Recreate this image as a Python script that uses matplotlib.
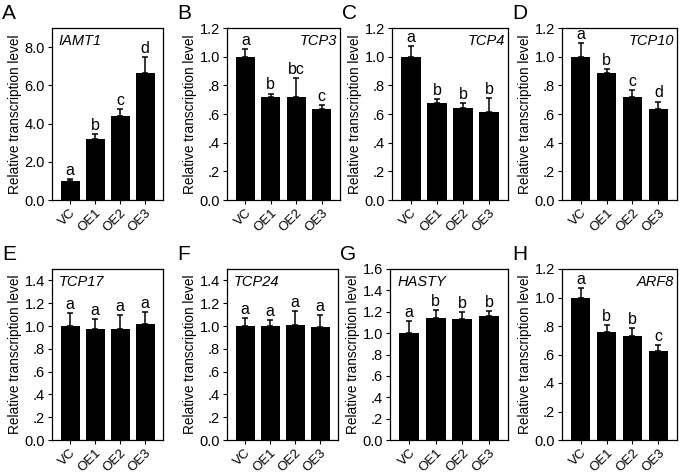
import matplotlib
matplotlib.use("Agg")
import matplotlib.pyplot as plt
from matplotlib.ticker import FuncFormatter

plt.rcParams['font.family'] = ['Liberation Sans', 'DejaVu Sans']

groups = ["VC", "OE1", "OE2", "OE3"]

panel_ids = ["A", "B", "C", "D", "E", "F", "G", "H"]
genes = ["IAMT1", "TCP3", "TCP4", "TCP10", "TCP17", "TCP24", "HASTY", "ARF8"]

iamt1_mean = [1.0, 3.17, 4.42, 6.67]
iamt1_err = [0.08, 0.30, 0.35, 0.83]
tcp3_mean = [1.0, 0.718, 0.72, 0.638]
tcp3_err = [0.05, 0.025, 0.13, 0.024]
tcp4_mean = [1.0, 0.68, 0.64, 0.612]
tcp4_err = [0.072, 0.026, 0.036, 0.098]
tcp10_mean = [1.0, 0.885, 0.72, 0.636]
tcp10_err = [0.093, 0.029, 0.047, 0.051]
tcp17_mean = [1.0, 0.97, 0.975, 1.02]
tcp17_err = [0.11, 0.095, 0.12, 0.105]
tcp24_mean = [1.0, 1.0, 1.01, 0.99]
tcp24_err = [0.07, 0.05, 0.12, 0.11]
hasty_mean = [1.0, 1.14, 1.13, 1.16]
hasty_err = [0.11, 0.075, 0.07, 0.05]
arf8_mean = [1.0, 0.76, 0.73, 0.622]
arf8_err = [0.068, 0.05, 0.056, 0.042]

letters = [
    ["a", "b", "c", "d"],
    ["a", "b", "bc", "c"],
    ["a", "b", "b", "b"],
    ["a", "b", "c", "d"],
    ["a", "a", "a", "a"],
    ["a", "a", "a", "a"],
    ["a", "b", "b", "b"],
    ["a", "b", "b", "c"],
]

means = [iamt1_mean, tcp3_mean, tcp4_mean, tcp10_mean,
         tcp17_mean, tcp24_mean, hasty_mean, arf8_mean]
errs = [iamt1_err, tcp3_err, tcp4_err, tcp10_err,
        tcp17_err, tcp24_err, hasty_err, arf8_err]

ylims = [9.0, 1.2, 1.2, 1.2, 1.5, 1.5, 1.6, 1.2]
yticks = [
    [0, 2, 4, 6, 8],
    [0, .2, .4, .6, .8, 1.0, 1.2],
    [0, .2, .4, .6, .8, 1.0, 1.2],
    [0, .2, .4, .6, .8, 1.0, 1.2],
    [0, .2, .4, .6, .8, 1.0, 1.2, 1.4],
    [0, .2, .4, .6, .8, 1.0, 1.2, 1.4],
    [0, .2, .4, .6, .8, 1.0, 1.2, 1.4, 1.6],
    [0, .2, .4, .6, .8, 1.0, 1.2],
]
gene_pos = ["left", "right", "right", "right", "left", "left", "left", "right"]

# axes rectangles in pixels (left, top, right, bottom) for a 683x475 figure
W, H = 683, 475
rects = [
    (52, 28, 163, 200), (227, 28, 340, 200), (392, 28, 508, 200), (562, 28, 677, 200),
    (52, 269, 163, 440), (227, 269, 338, 440), (390, 269, 508, 440), (562, 269, 677, 440),
]

fig = plt.figure(figsize=(W / 100, H / 100), dpi=100)


def fmt(v, pos):
    if abs(v) < 1e-9:
        return "0.0"
    if v < 1:
        return ("%.1f" % v)[1:]
    return "%.1f" % v


for i in range(8):
    l, t, r, b = rects[i]
    ax = fig.add_axes([l / W, 1 - b / H, (r - l) / W, (b - t) / H])
    x = list(range(len(groups)))
    ax.bar(x, means[i], width=0.76, color="black", zorder=2)
    ax.errorbar(x, means[i], yerr=[[0] * 4, errs[i]], fmt="none", ecolor="black",
                elinewidth=1.1, capsize=2.5, capthick=1.1, zorder=3)
    top = ylims[i]
    for xi, m, e, lt in zip(x, means[i], errs[i], letters[i]):
        ax.text(xi, m + e + top * 0.006, lt, ha="center", va="bottom", fontsize=11.5)
    ax.set_xlim(-0.72, 3.72)
    ax.set_ylim(0, top)
    ax.set_yticks(yticks[i])
    ax.yaxis.set_major_formatter(FuncFormatter(fmt))
    ax.set_xticks(x)
    ax.set_xticklabels(groups, rotation=45, ha="right", rotation_mode="anchor", fontsize=9.5)
    ax.tick_params(axis="y", labelsize=10.5, length=3, width=0.8, direction="out", pad=2)
    ax.tick_params(axis="x", length=3, width=0.8, direction="out", pad=2)
    for s in ax.spines.values():
        s.set_linewidth(0.9)
    ax.set_ylabel("Relative transcription level", fontsize=9.8, labelpad=2)
    if gene_pos[i] == "left":
        ax.text(0.06, 0.965, genes[i], transform=ax.transAxes, ha="left", va="top",
                fontsize=10.5, style="italic")
    else:
        ax.text(0.975, 0.965, genes[i], transform=ax.transAxes, ha="right", va="top",
                fontsize=10.5, style="italic")
    fig.text((l - 50) / W, 1 - (t - 14.5) / H, panel_ids[i], fontsize=15, ha="left", va="center")

fig.savefig("out.png", dpi=100)
